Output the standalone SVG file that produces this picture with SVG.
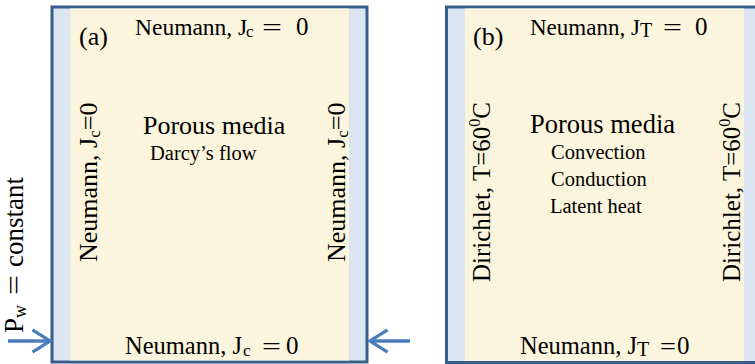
<svg xmlns="http://www.w3.org/2000/svg" width="755" height="364" viewBox="0 0 755 364">
<style>
  .t { font-family: "Liberation Serif", "Times New Roman", serif; fill: #000; }
  .border { fill: #dbe5f1; stroke: #385d8a; stroke-width: 3; }
  .cream { fill: #fcf5dd; }
  .arrow { stroke: #4a7ebb; stroke-width: 3.5; fill: none; }
</style>
<defs>
  <marker id="chev" markerUnits="userSpaceOnUse" markerWidth="24" markerHeight="30" refX="19" refY="12" orient="auto" viewBox="-3 -3 26 30">
    <path d="M0,0 L19,12 L0,24" fill="none" stroke="#4a7ebb" stroke-width="3.5"/>
  </marker>
</defs>
<rect width="755" height="364" fill="#fff"/>

<g id="panel-a">
  <rect class="border" x="52" y="7" width="315" height="355"/>
  <rect class="cream" x="70.5" y="8.5" width="278.5" height="352"/>
  <text class="t" x="79" y="45" font-size="26">(a)</text>
  <text class="t" x="135" y="35" font-size="23.5">Neumann, J</text>
  <text class="t" x="246" y="37" font-size="17">c</text>
  <text class="t" x="262" y="35" font-size="23" textLength="20" lengthAdjust="spacingAndGlyphs">=</text>
  <text class="t" x="296" y="35" font-size="25">0</text>
  <text class="t" x="143" y="134" font-size="26">Porous media</text>
  <text class="t" x="150" y="160" font-size="20.5">Darcy’s flow</text>
  <text class="t" x="125" y="354" font-size="24.5">Neumann, J</text>
  <text class="t" x="243" y="356" font-size="17">c</text>
  <text class="t" x="262" y="354" font-size="23" textLength="19" lengthAdjust="spacingAndGlyphs">=</text>
  <text class="t" x="286" y="354" font-size="25">0</text>
  <g transform="translate(97,262) rotate(-90)">
    <text class="t" x="0" y="0" font-size="26">Neumann, J<tspan font-size="17" dy="3">c</tspan><tspan dy="-3">=0</tspan></text>
  </g>
  <g transform="translate(345,262) rotate(-90)">
    <text class="t" x="0" y="0" font-size="26">Neumann, J<tspan font-size="17" dy="3">c</tspan><tspan dy="-3">=0</tspan></text>
  </g>
</g>

<g id="inlet-label">
  <g transform="translate(23,333) rotate(-90)">
    <text class="t" y="0" font-size="27"><tspan x="0">P</tspan><tspan font-size="18" dy="3">w</tspan></text>
    <text class="t" x="38" y="0" font-size="27" textLength="20" lengthAdjust="spacingAndGlyphs">=</text>
    <text class="t" x="66" y="0" font-size="27">constant</text>
  </g>
</g>

<g id="panel-b">
  <rect class="border" x="446.5" y="7" width="330" height="355.5"/>
  <rect class="cream" x="465" y="8.5" width="279" height="352.5"/>
  <text class="t" x="473" y="45" font-size="26">(b)</text>
  <text class="t" x="530" y="35" font-size="23">Neumann, J</text>
  <text class="t" x="640" y="37" font-size="20">T</text>
  <text class="t" x="663" y="35" font-size="23" textLength="19" lengthAdjust="spacingAndGlyphs">=</text>
  <text class="t" x="695" y="35" font-size="25">0</text>
  <text class="t" x="530" y="133" font-size="26.5">Porous media</text>
  <text class="t" x="551" y="159" font-size="20.5">Convection</text>
  <text class="t" x="551" y="186" font-size="20.5">Conduction</text>
  <text class="t" x="550" y="213" font-size="20.5">Latent heat</text>
  <text class="t" x="520" y="354" font-size="24.5">Neumann, J</text>
  <text class="t" x="637" y="356" font-size="20">T</text>
  <text class="t" x="660" y="354" font-size="23" textLength="16" lengthAdjust="spacingAndGlyphs">=</text>
  <text class="t" x="677" y="354" font-size="25">0</text>
  <g transform="translate(490,282) rotate(-90)">
    <text class="t" x="0" y="0" font-size="25">Dirichlet, T=60<tspan font-size="16" dy="-10">0</tspan><tspan dy="10">C</tspan></text>
  </g>
  <g transform="translate(740,282) rotate(-90)">
    <text class="t" x="0" y="0" font-size="25">Dirichlet, T=60<tspan font-size="16" dy="-10">0</tspan><tspan dy="10">C</tspan></text>
  </g>
</g>

<g id="connectors">
  <line class="arrow" x1="8" y1="341" x2="50" y2="341" marker-end="url(#chev)"/>
  <line class="arrow" x1="410" y1="341" x2="370" y2="341" marker-end="url(#chev)"/>
</g>
</svg>
